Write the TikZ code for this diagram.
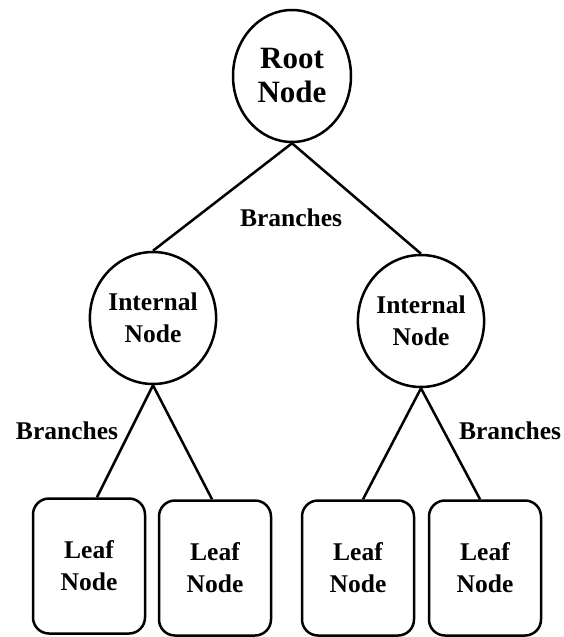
\documentclass[tikz,border=0pt]{standalone}
\usepackage{fontspec}
\setmainfont{Liberation Serif}
\usetikzlibrary{shapes.geometric}

\tikzset{
  treenode/.style={draw, line width=2.5pt, ellipse, minimum width=118pt, minimum height=132pt,
    inner sep=0pt, align=center, font=\bfseries\fontsize{25.5}{32}\selectfont},
  leafnode/.style={draw, line width=2.5pt, rounded corners=16pt, minimum width=112pt,
    minimum height=135pt, inner sep=0pt, align=center, font=\bfseries\fontsize{25.5}{32}\selectfont},
  branch/.style={line width=2.5pt},
  branchlabel/.style={inner sep=0pt, font=\bfseries\fontsize{25.5}{30}\selectfont}
}

\begin{document}
\begin{tikzpicture}[x=1pt,y=-1pt]
            \useasboundingbox (0,0) rectangle (563,637);

            % nodes of the tree
            \node[treenode, font=\bfseries\fontsize{31}{34}\selectfont] (root) at (292,76) {Root\\Node};
            \node[treenode] (intl) at (153,318) {Internal\\Node};
            \node[treenode] (intr) at (421,321) {Internal\\Node};

            \node[leafnode] (leafa) at (89,566) {Leaf\\Node};
            \node[leafnode] (leafb) at (215,568) {Leaf\\Node};
            \node[leafnode] (leafc) at (358,568) {Leaf\\Node};
            \node[leafnode] (leafd) at (485,568) {Leaf\\Node};

            % branches
            \draw[branch] (root.south) -- (intl.north);
            \draw[branch] (root.south) -- (intr.north);
            \draw[branch] (intl.south) -- ([xshift=8pt]leafa.north);
            \draw[branch] (intl.south) -- ([xshift=-3pt]leafb.north);
            \draw[branch] (intr.south) -- ([xshift=5pt]leafc.north);
            \draw[branch] (intr.south) -- ([xshift=-5pt]leafd.north);

            \node[branchlabel] (lbltop) at (291,218) {Branches};
            \node[branchlabel] (lblleft) at (67,431) {Branches};
            \node[branchlabel] (lblright) at (510,431) {Branches};
        \end{tikzpicture}
\end{document}
